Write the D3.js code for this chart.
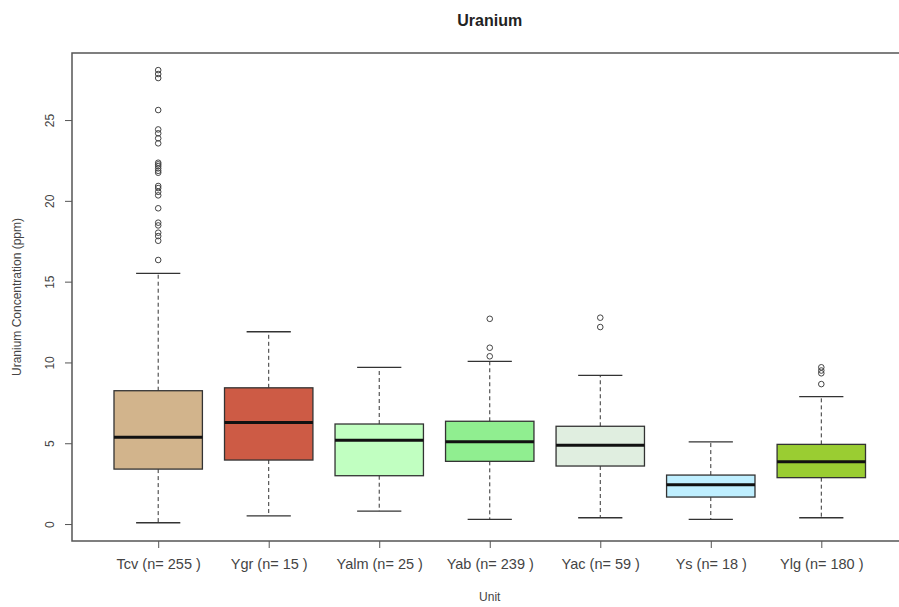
<!DOCTYPE html>
<html>
<head>
<meta charset="utf-8">
<script src="https://cdn.jsdelivr.net/npm/d3@7"></script>
<style>
  html, body { margin: 0; padding: 0; background: #fff; }
  svg { display: block; font-family: "Liberation Sans", Arial, sans-serif; }
</style>
</head>
<body>
<svg id="chart" width="899" height="607"></svg>
<script>
// Units and sample counts
const units = ["Tcv", "Ygr", "Yalm", "Yab", "Yac", "Ys", "Ylg"];
const counts = [255, 15, 25, 239, 59, 18, 180];
const fills = ["#D2B48C", "#CD5B45", "#C1FFC1", "#90EE90", "#E0EEE0", "#BFEFFF", "#9ACD32"];

// Box statistics (ppm): lower whisker, Q1, median, Q3, upper whisker
const lowerWhisker = [0.08, 0.50, 0.80, 0.29, 0.39, 0.29, 0.39];
const q1 =           [3.40, 3.96, 2.99, 3.88, 3.59, 1.67, 2.87];
const medians =      [5.37, 6.29, 5.18, 5.09, 4.87, 2.43, 3.86];
const q3 =           [8.25, 8.43, 6.19, 6.36, 6.05, 3.03, 4.93];
const upperWhisker = [15.51, 11.90, 9.70, 10.07, 9.20, 5.09, 7.88];

// Outlying samples per unit
const outliers = [
  [28.09, 27.85, 27.60, 25.62, 24.42, 24.18, 23.87, 23.56, 22.36, 22.26, 22.15, 22.01,
   21.86, 21.74, 20.92, 20.79, 20.56, 20.34, 19.54, 18.65, 18.48, 18.03, 17.82, 17.53, 16.34],
  [],
  [],
  [12.70, 10.91, 10.38],
  [12.77, 12.19],
  [],
  [9.70, 9.50, 9.33, 8.66]
];

const yTicks = [0, 5, 10, 15, 20, 25];

const svg = d3.select("#chart");
const plot = { left: 72, top: 53, right: 907.5, bottom: 541 };

// Position scale: unit i sits at i+1, domain padded as in a base boxplot
const x = d3.scaleLinear().domain([0.22, 7.78]).range([plot.left, plot.right]);
const y = d3.scaleLinear().domain([-1.05, 29.15]).range([plot.bottom, plot.top]);
const bandW = x(1.8) - x(1);       // box width (0.8 of a slot)
const capW = bandW / 2;

const ink = "#333";

const rows = units.map((u, i) => ({
  unit: u, n: counts[i], fill: fills[i],
  lo: lowerWhisker[i], q1: q1[i], med: medians[i], q3: q3[i], hi: upperWhisker[i],
  out: outliers[i], pos: i + 1
}));

const g = svg.append("g");
const box = g.selectAll("g.box").data(rows).join("g").attr("class", "box");

// Whiskers (dashed)
box.append("line")
  .attr("x1", d => x(d.pos)).attr("x2", d => x(d.pos))
  .attr("y1", d => y(d.q3)).attr("y2", d => y(d.hi))
  .attr("stroke", ink).attr("stroke-dasharray", "4,3").attr("stroke-width", 1);
box.append("line")
  .attr("x1", d => x(d.pos)).attr("x2", d => x(d.pos))
  .attr("y1", d => y(d.q1)).attr("y2", d => y(d.lo))
  .attr("stroke", ink).attr("stroke-dasharray", "4,3").attr("stroke-width", 1);

// Staples
["hi", "lo"].forEach(k => {
  box.append("line")
    .attr("x1", d => x(d.pos) - capW / 2).attr("x2", d => x(d.pos) + capW / 2)
    .attr("y1", d => y(d[k])).attr("y2", d => y(d[k]))
    .attr("stroke", ink).attr("stroke-width", 1.3);
});

// Boxes
box.append("rect")
  .attr("x", d => x(d.pos) - bandW / 2).attr("width", bandW)
  .attr("y", d => y(d.q3)).attr("height", d => y(d.q1) - y(d.q3))
  .attr("fill", d => d.fill).attr("stroke", ink).attr("stroke-width", 1.3);

// Medians
box.append("line")
  .attr("x1", d => x(d.pos) - bandW / 2).attr("x2", d => x(d.pos) + bandW / 2)
  .attr("y1", d => y(d.med)).attr("y2", d => y(d.med))
  .attr("stroke", "#111").attr("stroke-width", 3);

// Outliers
box.selectAll("circle").data(d => d.out.map(v => ({ v, pos: d.pos }))).join("circle")
  .attr("cx", d => x(d.pos)).attr("cy", d => y(d.v)).attr("r", 2.8)
  .attr("fill", "none").attr("stroke", "#444").attr("stroke-width", 1);

// Plot frame
svg.append("rect")
  .attr("x", plot.left).attr("y", plot.top)
  .attr("width", plot.right - plot.left).attr("height", plot.bottom - plot.top)
  .attr("fill", "none").attr("stroke", "#555").attr("stroke-width", 1.5);

// Y axis
const yAxis = d3.axisLeft(y).tickValues(yTicks).tickSize(7).tickPadding(6);
const ya = svg.append("g").attr("transform", `translate(${plot.left},0)`).call(yAxis);
ya.select(".domain").remove();
ya.selectAll(".tick line").attr("stroke", "#555");
ya.selectAll(".tick text")
  .attr("font-size", 12).attr("fill", "#444")
  .attr("font-family", "Liberation Sans, Arial, sans-serif")
  .attr("text-anchor", "middle").attr("x", 0).attr("dy", 0)
  .attr("transform", "translate(-22,0) rotate(-90)")
  .attr("dominant-baseline", "central");

// X axis
const xAxis = d3.axisBottom(x).tickValues(rows.map(d => d.pos))
  .tickFormat((d, i) => `${units[i]} (n= ${counts[i]} )`).tickSize(7).tickPadding(11);
const xa = svg.append("g").attr("transform", `translate(0,${plot.bottom})`).call(xAxis);
xa.select(".domain").remove();
xa.selectAll(".tick line").attr("stroke", "#555");
xa.selectAll(".tick text").attr("font-size", 14.5).attr("fill", "#444")
  .attr("font-family", "Liberation Sans, Arial, sans-serif");

// Titles
svg.append("text").attr("x", (plot.left + plot.right) / 2).attr("y", 26)
  .attr("text-anchor", "middle").attr("font-size", 16).attr("font-weight", "bold")
  .attr("fill", "#222").text("Uranium");
svg.append("text").attr("x", (plot.left + plot.right) / 2).attr("y", 601)
  .attr("text-anchor", "middle").attr("font-size", 12).attr("fill", "#444").text("Unit");
svg.append("text")
  .attr("transform", `translate(21,${(plot.top + plot.bottom) / 2}) rotate(-90)`)
  .attr("text-anchor", "middle").attr("font-size", 12).attr("fill", "#444")
  .text("Uranium Concentration (ppm)");
</script>
</body>
</html>
